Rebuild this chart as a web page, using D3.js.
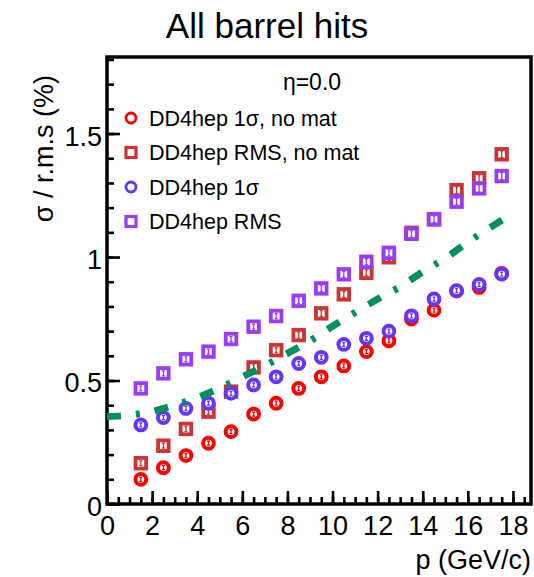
<!DOCTYPE html>
<html>
<head>
<meta charset="utf-8">
<script src="https://cdn.jsdelivr.net/npm/d3@7"></script>
<style>
  body { margin: 0; background: #fff; }
  text { font-family: "Liberation Sans", Arial, Helvetica, sans-serif; }
</style>
</head>
<body>
<div id="chart"></div>
<script>
// momentum bins (GeV/c)
var pBins = [1.5, 2.5, 3.5, 4.5, 5.5, 6.5, 7.5, 8.5, 9.5, 10.5, 11.5, 12.5, 13.5, 14.5, 15.5, 16.5, 17.5];

// resolution values (%)
var sigmaNoMat = [0.100, 0.147, 0.196, 0.246, 0.293, 0.364, 0.408, 0.468, 0.515, 0.559, 0.617, 0.661, 0.749, 0.785, 0.862, 0.877, 0.934];
var rmsNoMat   = [0.165, 0.236, 0.304, 0.374, 0.455, 0.553, 0.623, 0.684, 0.772, 0.849, 0.936, 0.999, 1.098, 1.153, 1.271, 1.319, 1.416];
var sigmaMat   = [0.320, 0.350, 0.387, 0.408, 0.448, 0.482, 0.515, 0.569, 0.594, 0.646, 0.671, 0.700, 0.762, 0.830, 0.864, 0.889, 0.931];
var rmsMat     = [0.468, 0.529, 0.586, 0.617, 0.668, 0.718, 0.761, 0.823, 0.873, 0.930, 0.981, 1.017, 1.094, 1.153, 1.224, 1.278, 1.328];

// error bars
var errSigmaNoMat = [0.008, 0.008, 0.008, 0.008, 0.008, 0.008, 0.008, 0.008, 0.008, 0.008, 0.008, 0.008, 0.008, 0.008, 0.008, 0.008, 0.008];
var errRms        = [0.010, 0.010, 0.010, 0.010, 0.010, 0.010, 0.010, 0.012, 0.012, 0.012, 0.012, 0.012, 0.014, 0.014, 0.014, 0.014, 0.014];

// dashed reference curve
var curveP   = [0, 1, 2, 3, 4, 5, 6, 7, 8, 9, 10, 11, 12, 13, 14, 15, 16, 17, 18];
var curveVal = [0.354, 0.360, 0.375, 0.400, 0.430, 0.470, 0.515, 0.560, 0.610, 0.660, 0.720, 0.775, 0.830, 0.880, 0.940, 0.995, 1.060, 1.120, 1.178];

var legendLabels = ["DD4hep 1\u03c3, no mat", "DD4hep RMS, no mat", "DD4hep 1\u03c3", "DD4hep RMS"];
var xTicks = [0, 2, 4, 6, 8, 10, 12, 14, 16, 18];
var yTicks = [0, 0.5, 1, 1.5];

var W = 534, H = 577;
var margin = {top: 57, right: 3, bottom: 73, left: 107},
    width = W - margin.left - margin.right,
    height = H - margin.top - margin.bottom;

var svg = d3.select("#chart")
  .append("svg")
    .attr("width", W)
    .attr("height", H);

var g = svg.append("g")
  .attr("transform", "translate(" + margin.left + "," + margin.top + ")");

var x = d3.scaleLinear().domain([0, 18.8]).range([0, width]);
var y = d3.scaleLinear().domain([0, 1.81]).range([height, 0]);

// title
svg.append("text")
  .attr("x", 267).attr("y", 38)
  .attr("text-anchor", "middle")
  .style("font-size", "35px")
  .text("All barrel hits");

// minor ticks
g.append("g")
  .attr("class", "minor")
  .call(d3.axisLeft(y).tickValues(d3.range(0, 1.81, 0.1)).tickSize(-7).tickFormat(""));
g.append("g")
  .attr("class", "minor")
  .attr("transform", "translate(0," + height + ")")
  .call(d3.axisBottom(x).tickValues(d3.range(0, 18.8, 0.5)).tickSize(-7).tickFormat(""));

// major ticks + labels
var yAxis = g.append("g")
  .call(d3.axisLeft(y).tickValues(yTicks).tickSize(-13).tickPadding(5)
    .tickFormat(d3.format("~g")));
yAxis.selectAll("text")
  .style("font-size", "27px")
  .attr("dy", "0.35em")
  .attr("y", 2);

var xAxis = g.append("g")
  .attr("transform", "translate(0," + height + ")")
  .call(d3.axisBottom(x).tickValues(xTicks).tickSize(-13).tickPadding(12));
xAxis.selectAll("text").style("font-size", "27px");

g.selectAll(".domain").remove();
g.selectAll(".tick line").attr("stroke", "#000").attr("stroke-width", 2.6);
g.selectAll(".tick text").attr("fill", "#000");

// frame
g.append("rect")
  .attr("width", width).attr("height", height)
  .attr("fill", "none")
  .attr("stroke", "#000")
  .attr("stroke-width", 3.5);

// axis titles
svg.append("text")
  .attr("x", W - 3).attr("y", 569)
  .attr("text-anchor", "end")
  .style("font-size", "27px")
  .text("p (GeV/c)");

svg.append("text")
  .attr("transform", "translate(53,75) rotate(-90)")
  .attr("text-anchor", "end")
  .style("font-size", "27px")
  .text("\u03c3 / r.m.s (%)");

// markers
function drawSeries(vals, errs, color, shape) {
  var pts = pBins.map(function(p, i){ return {p: p, v: vals[i], e: errs[i]}; });
  var s = g.append("g");
  var m = s.selectAll("g").data(pts).enter().append("g")
    .attr("transform", function(d){ return "translate(" + x(d.p) + "," + y(d.v) + ")"; });
  if (shape == "circle") {
    m.append("circle").attr("r", 5.4)
      .attr("fill", "#fff").attr("stroke", color).attr("stroke-width", 4);
  } else {
    m.append("rect").attr("x", -5.3).attr("y", -5.3).attr("width", 10.6).attr("height", 10.6)
      .attr("fill", "#fff").attr("stroke", color).attr("stroke-width", 3.8);
  }
  // error bar with caps
  m.append("path")
    .attr("d", function(d){
      var h = Math.min(y(0) - y(d.e), 3.5);
      return "M0," + (-h) + "V" + h + "M-1.5," + (-h) + "H1.5M-1.5," + h + "H1.5";
    })
    .attr("stroke", color).attr("stroke-width", 1.3).attr("fill", "none");
}

drawSeries(rmsNoMat, errRms, "#cc3333", "square");
drawSeries(rmsMat, errRms, "#9a3cf7", "square");
drawSeries(sigmaNoMat, errSigmaNoMat, "#ff0000", "circle");
drawSeries(sigmaMat, errSigmaNoMat, "#6633ff", "circle");

// reference curve
var curveData = curveP.map(function(p, i){ return {p: p, v: curveVal[i]}; });
g.append("path")
  .datum(curveData)
  .attr("fill", "none")
  .attr("stroke", "#00905f")
  .attr("stroke-width", 7)
  .attr("stroke-dasharray", "14,15,4,15")
  .attr("d", d3.line()
    .curve(d3.curveMonotoneX)
    .x(function(d){ return x(d.p); })
    .y(function(d){ return y(d.v); })
  );

// legend
svg.append("text")
  .attr("x", 312).attr("y", 90)
  .attr("text-anchor", "middle")
  .style("font-size", "23px")
  .text("\u03b7=0.0");

var legColors = ["#ff0000", "#cc3333", "#6633ff", "#9a3cf7"];
var legShapes = ["circle", "square", "circle", "square"];
var leg = svg.append("g");
legendLabels.forEach(function(lab, i){
  var ly = 118 + i * 34.5;
  if (legShapes[i] == "circle") {
    leg.append("circle").attr("cx", 131).attr("cy", ly).attr("r", 5)
      .attr("fill", "none").attr("stroke", legColors[i]).attr("stroke-width", 2.8);
  } else {
    leg.append("rect").attr("x", 126).attr("y", ly - 5).attr("width", 10).attr("height", 10)
      .attr("fill", "none").attr("stroke", legColors[i]).attr("stroke-width", 3.2);
  }
  leg.append("text")
    .attr("x", 149).attr("y", ly)
    .attr("dy", "0.36em")
    .style("font-size", "21.5px")
    .text(lab);
});
</script>
</body>
</html>
